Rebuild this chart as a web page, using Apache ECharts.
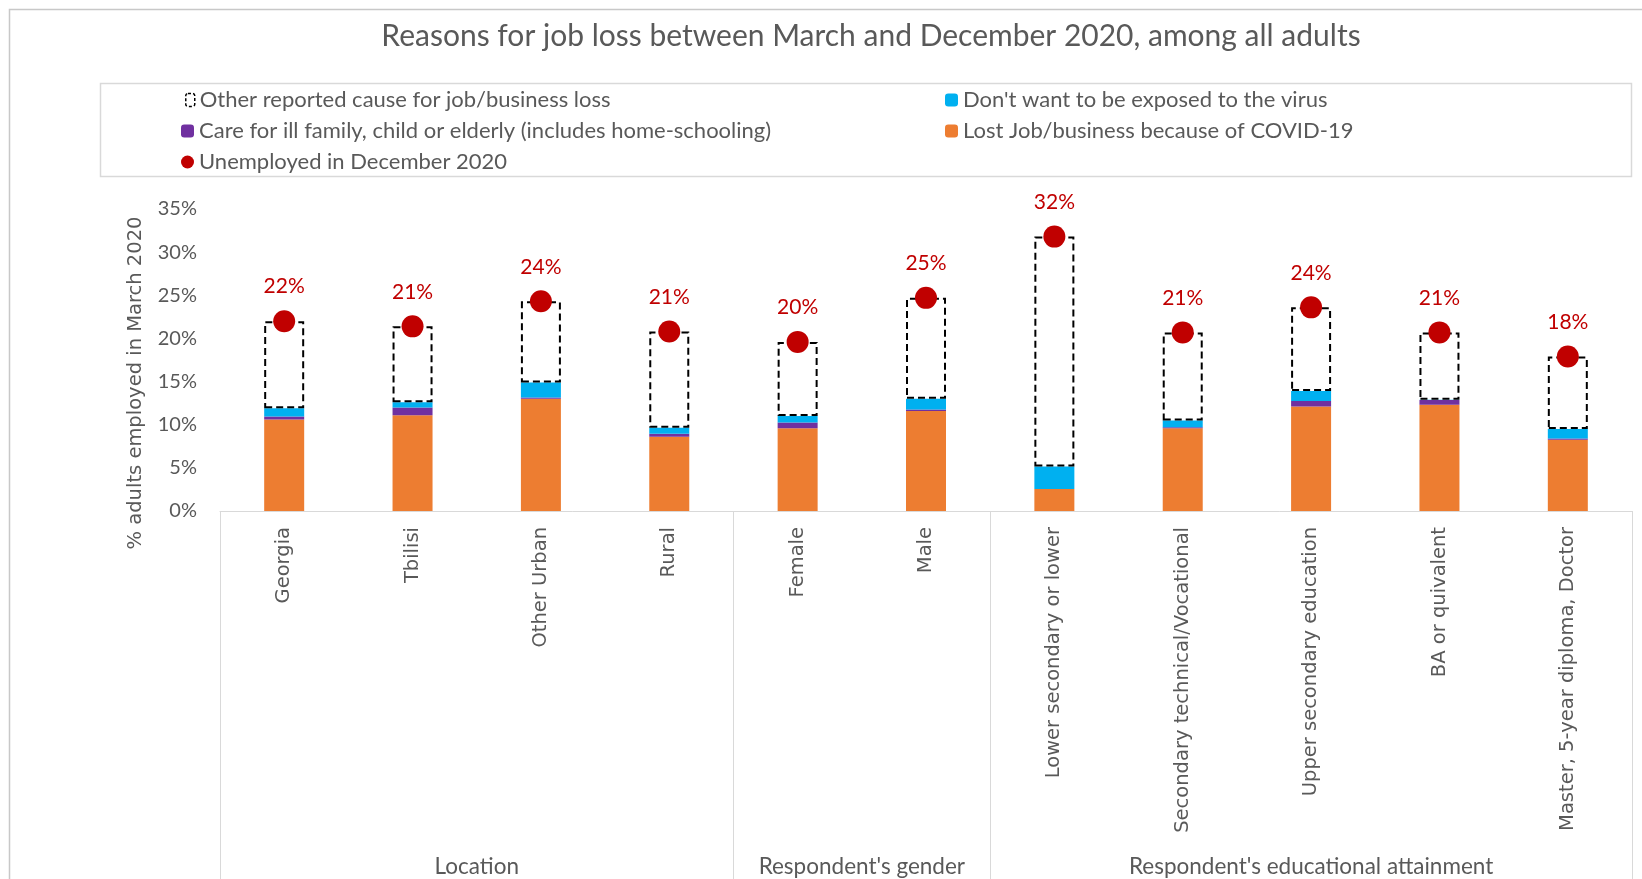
<!DOCTYPE html>
<html>
<head>
<meta charset="utf-8">
<script src="https://cdn.jsdelivr.net/npm/echarts@6/dist/echarts.min.js"></script>
<style>
html,body{margin:0;padding:0;background:#fff;}
#main{width:1642px;height:879px;}
</style>
</head>
<body>
<div id="main"></div>
<script>
const categories = ['Georgia','Tbilisi','Other Urban','Rural','Female','Male','Lower secondary or lower','Secondary technical/Vocational','Upper secondary education','BA or quivalent','Master, 5-year diploma, Doctor'];
const lostJob   = [10.6, 11.1, 13.0, 8.6, 9.6, 11.6, 2.55, 9.6, 12.1, 12.3, 8.25];
const careFamily= [0.35, 0.9, 0.15, 0.35, 0.65, 0.15, 0, 0.1, 0.65, 0.55, 0.15];
const notExposed= [0.95, 0.6, 1.75, 0.7, 0.75, 1.25, 2.6, 0.8, 1.15, 0.05, 1.1];
const otherCause= [10.1, 8.8, 9.4, 11.15, 8.6, 11.7, 26.65, 10.2, 9.7, 7.8, 8.4];
const unemployed= [22.0, 21.4, 24.3, 20.8, 19.6, 24.7, 31.8, 20.7, 23.6, 20.7, 17.9];
const groupNames = ['Location', "Respondent's gender", "Respondent's educational attainment"];
const groupStart = [0, 4, 6];
const groupEnd   = [4, 6, 11];
const yTicks = [0, 5, 10, 15, 20, 25, 30, 35];

const TXT = '#595959';
const chart = echarts.init(document.getElementById('main'));
const legendBase = {orient:'horizontal', itemWidth:13, itemHeight:13, textStyle:{color:TXT, fontFamily:'Lato', fontSize:22}, selectedMode:false};
const option = {
  animation:false,
  title:{text:'Reasons for job loss between March and December 2020, among all adults', left:866, top:16, textAlign:'center',
    textStyle:{color:TXT, fontFamily:'Lato', fontSize:30, fontWeight:'normal'}},
  legend:[
    Object.assign({}, legendBase, {data:['Other reported cause for job/business loss'], left:180, top:84, itemWidth:9,
      itemStyle:{borderType:[3,2], borderWidth:1.5, borderColor:'#000', color:'rgba(0,0,0,0)'}}),
    Object.assign({}, legendBase, {data:["Don't want to be exposed to the virus"], left:940, top:84}),
    Object.assign({}, legendBase, {data:['Care for ill family, child or elderly (includes home-schooling)'], left:176, top:115}),
    Object.assign({}, legendBase, {data:['Lost Job/business because of COVID-19'], left:940, top:115}),
    Object.assign({}, legendBase, {data:['Unemployed in December 2020'], left:176, top:146})
  ],
  grid:{left:220, right:10, top:209, bottom:368, containLabel:false},
  xAxis:{type:'category', data:categories, boundaryGap:true,
    axisLine:{lineStyle:{color:'#d9d9d9', width:1}}, axisTick:{show:false},
    axisLabel:{rotate:90, margin:16, color:TXT, fontFamily:'DejaVu Sans', fontSize:19.5, interval:0}},
  yAxis:{type:'value', min:0, max:35, interval:5,
    name:'% adults employed in March 2020', nameLocation:'middle', nameGap:74, nameRotate:90,
    nameTextStyle:{color:TXT, fontFamily:'DejaVu Sans', fontSize:19.5, padding:[0,46,0,0]},
    axisLine:{show:false}, axisTick:{show:false}, splitLine:{show:false},
    axisLabel:{formatter:'{value}%', color:TXT, fontFamily:'Lato', fontSize:20, margin:23}},
  series:[
    {name:'Lost Job/business because of COVID-19', type:'bar', stack:'a', barWidth:40, data:lostJob, itemStyle:{color:'#ED7D31'}},
    {name:'Care for ill family, child or elderly (includes home-schooling)', type:'bar', stack:'a', barWidth:40, data:careFamily, itemStyle:{color:'#7030A0'}},
    {name:"Don't want to be exposed to the virus", type:'bar', stack:'a', barWidth:40, data:notExposed, itemStyle:{color:'#00B0F0'}},
    {name:'Other reported cause for job/business loss', type:'bar', stack:'a', barWidth:40, data:otherCause,
      itemStyle:{color:'rgba(0,0,0,0)', borderColor:'#000', borderWidth:2, borderType:[7,4]}},
    {name:'Unemployed in December 2020', type:'scatter', data:unemployed, symbol:'circle', symbolSize:22, z:10,
      itemStyle:{color:'#C00000', opacity:1},
      label:{show:true, position:'top', distance:13, color:'#C00000', fontFamily:'Lato', fontSize:21,
        formatter:p=>Math.round(p.value)+'%'}}
  ]
};
chart.setOption(option);

function addGraphics(){
  const c0 = chart.convertToPixel({xAxisIndex:0}, 0);
  const c1 = chart.convertToPixel({xAxisIndex:0}, 1);
  const band = c1 - c0;
  const edge = i => c0 - band/2 + band*i;
  const yBase = chart.convertToPixel({yAxisIndex:0}, 0);
  const g = [
    {type:'rect', shape:{x:9.5, y:9.5, width:1700, height:1000}, style:{fill:null, stroke:'#c8c8c8', lineWidth:1.5}, silent:true, z:-1},
    {type:'rect', shape:{x:100.5, y:83.5, width:1531, height:93}, style:{fill:null, stroke:'#d9d9d9', lineWidth:1.5}, silent:true, z:-1}
  ];
  const bounds = new Set();
  groupStart.forEach(s=>bounds.add(s)); groupEnd.forEach(e=>bounds.add(e));
  bounds.forEach(b=>{
    const x = Math.round(edge(b))+0.5;
    g.push({type:'line', shape:{x1:x, y1:yBase, x2:x, y2:900}, style:{stroke:'#d9d9d9', lineWidth:1}, silent:true});
  });
  groupNames.forEach((n,i)=>{
    const cx = (edge(groupStart[i]) + edge(groupEnd[i]))/2;
    g.push({type:'text', x:cx, y:867, style:{text:n, fill:TXT, font:'22.5px Lato', textAlign:'center', textVerticalAlign:'middle'}, silent:true});
  });
  chart.setOption({graphic:g});
}
addGraphics();
</script>
</body>
</html>
